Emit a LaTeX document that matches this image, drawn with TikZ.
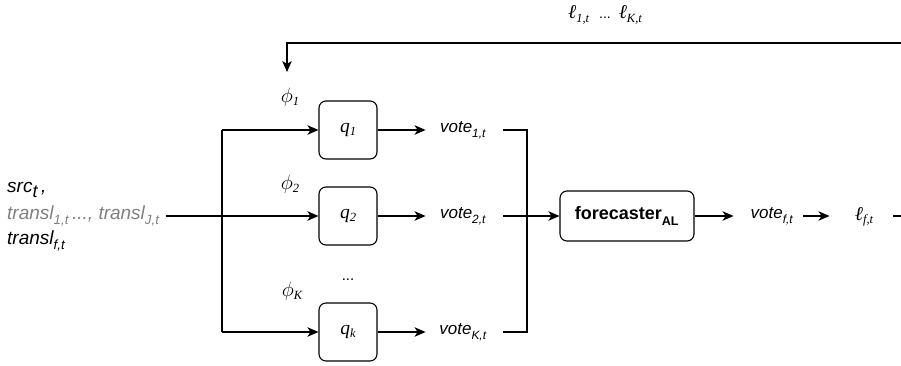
\documentclass[tikz,border=0pt]{standalone}
\usepackage{fontspec}
\setmainfont{Liberation Sans}
\newfontfamily\symserif{Liberation Serif}
\usetikzlibrary{arrows.meta}
\definecolor{lightink}{RGB}{128,128,128}
% italic serif symbol with a lowered subscript
\newcommand{\sym}[2]{{\symserif\itshape\fontsize{19.5}{22}\selectfont #1\raisebox{-0.35ex}{\fontsize{12.5}{14}\selectfont #2}}}
% straight-stroke phi from the math font, at the size in force
\newcommand{\phisym}{$\phi$}
\tikzset{
  wire/.style={line width=1.1pt, draw=black},
  flow/.style={wire, -{Stealth[length=11pt,width=9.5pt,inset=3pt]}},
  qbox/.style={draw=black, line width=1.1pt, rounded corners=7pt, minimum width=58pt, minimum height=58pt, inner sep=0pt},
  fbox/.style={draw=black, line width=1.1pt, rounded corners=7pt, minimum width=134pt, minimum height=50pt, inner sep=0pt},
  sanstext/.style={font=\fontsize{17}{20}\selectfont\itshape, inner sep=0pt},
  inputtext/.style={font=\fontsize{19}{22}\selectfont\itshape, inner sep=0pt, anchor=west},
  symtext/.style={inner sep=0pt},
}
\begin{document}
\begin{tikzpicture}[x=1pt,y=-1pt]
\useasboundingbox (0,0) rectangle (901,366);

% inputs
\node[inputtext] (src) at (7,190) {src\textsubscript{\raisebox{-0.35ex}{\fontsize{18}{20}\selectfont t}}\,,};
\node[inputtext, text=lightink] (transl) at (7,216) {transl\textsubscript{\raisebox{-0.35ex}{1,t}}\,..., transl\textsubscript{\raisebox{-0.35ex}{J,t}}};
\node[inputtext] (translf) at (7,241) {transl\textsubscript{\raisebox{-0.35ex}{f,t}}};

% split point
\coordinate (split) at (222,216);
\coordinate (splittop) at (222,130);
\coordinate (splitbot) at (222,332);

% quantifier boxes
\node[qbox] (q1) at (348,130) {\sym{q}{1}};
\node[qbox] (q2) at (348,216) {\sym{q}{2}};
\node[qbox] (qk) at (348,332) {\sym{q}{k}};

\node[symtext] (phi1) at (290,97) {\sym{\phisym}{1}};
\node[symtext] (phi2) at (290,184) {\sym{\phisym}{2}};
\node[symtext] (phik) at (292,291) {\sym{\phisym}{K}};
\node[sanstext, font=\fontsize{15}{18}\selectfont] (dots) at (348,280) {...};

% votes
\node[sanstext] (v1) at (463,130) {vote\textsubscript{\raisebox{-0.35ex}{1,t}}};
\node[sanstext] (v2) at (463,216) {vote\textsubscript{\raisebox{-0.35ex}{2,t}}};
\node[sanstext] (vk) at (463,332) {vote\textsubscript{\raisebox{-0.35ex}{K,t}}};

\coordinate (m1) at (527,130);
\coordinate (mk) at (527,332);
\coordinate (v1e) at (503,130);
\coordinate (v2e) at (503,216);
\coordinate (vke) at (503,332);

% forecaster
\node[fbox, font=\fontsize{18}{21}\selectfont\bfseries] (fc) at (627,216) {forecaster\textsubscript{\raisebox{-0.4ex}{AL}}};
\node[sanstext] (vf) at (772,216) {vote\textsubscript{\raisebox{-0.35ex}{f,t}}};
\node[symtext] (lf) at (864,217) {\sym{ℓ}{f,t}};

% feedback
\node[symtext] (ltop) at (605,15) {\sym{ℓ}{1,t}\hspace{10pt}{\fontsize{14}{16}\selectfont ...}\hspace{8pt}\sym{ℓ}{K,t}};
\coordinate (lfe) at (893,216);
\coordinate (edge) at (901,216);
\coordinate (fbr) at (901,43);
\coordinate (fbl) at (287,43);
\coordinate (fbtip) at (287,72);

% connectors
\draw[wire] (transl.east) ++(6pt,0) -- (split);
\draw[wire] (splittop) -- (splitbot);
\draw[flow] (splittop) -- (q1.west);
\draw[flow] (split) -- (q2.west);
\draw[flow] (splitbot) -- (qk.west);

\draw[flow] (q1.east) -- ++(48pt,0);
\draw[flow] (q2.east) -- ++(48pt,0);
\draw[flow] (qk.east) -- ++(48pt,0);

\draw[wire] (v1e) -- (m1) -- (mk) -- (vke);
\draw[flow] (v2e) -- (fc.west);

\draw[flow] (fc.east) -- ++(39pt,0);
\draw[flow] (vf.east) ++(10pt,0) -- ++(26pt,0);
\draw[wire] (lfe) -- (edge);
\draw[flow] (fbr) -- (fbl) -- (fbtip);
\end{tikzpicture}
\end{document}
